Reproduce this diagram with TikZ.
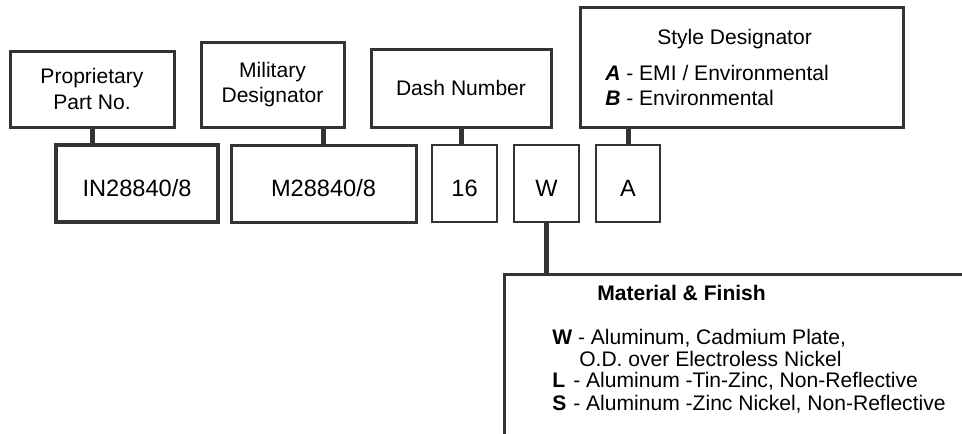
\documentclass[tikz,border=0pt]{standalone}
\usepackage{fontspec}
\setmainfont{Liberation Sans}
\usetikzlibrary{positioning}

\begin{document}
\begin{tikzpicture}[
    x=0.75pt, y=-0.75pt,
    label box/.style = {
        draw=black!80,
        line width=2.25pt,
        align=center,
        inner sep=0pt,
        font=\fontsize{15.8}{19}\selectfont
    },
    code box/.style = {
        draw=black!80,
        line width=#1,
        inner sep=0pt,
        minimum height=57.75pt,
        text height=20pt,
        text depth=0pt,
        font=\fontsize{17.7}{20}\selectfont
    },
    code box/.default=2.25pt,
    plain text/.style = {anchor=base west, inner sep=0pt, font=\fontsize{15.8}{16}\selectfont},
    stem/.style = {draw=black!80, line width=3.75pt}
]

\clip (0,0) rectangle (962,433);

\node [label box, minimum width=123pt, minimum height=57pt] (prop) at (92,89) {Proprietary\\Part No.};
\node [label box, minimum width=107.25pt, minimum height=63.75pt] (mil) at (272.5,84.5) {Military\\Designator};
\node [label box, minimum width=135pt, minimum height=58.5pt] (dash) at (461,88) {Dash Number};
\node [label box, minimum width=242.25pt, minimum height=90pt] (style) at (741.5,67) {};

\node [plain text] (style title) at (657,44) {Style Designator};
\node [plain text] (style a) at (605,80) {\textbf{\textit{A}} - EMI / Environmental};
\node [plain text] (style b) at (605,105) {\textbf{\textit{B}} - Environmental};

\node [code box=3pt, minimum width=121.5pt] (partno) at (137,183.5) {IN28840/8};
\node [code box, minimum width=138.75pt] (milno) at (323.5,183.5) {M28840/8};
\node [code box=1.9pt, minimum width=48.75pt] (dashno) at (464.5,183.5) {16};
\node [code box=1.9pt, minimum width=48.75pt] (finish) at (546.5,183.5) {W};
\node [code box=1.9pt, minimum width=48pt] (styleno) at (628,183.5) {A};

\node [label box, anchor=north west, minimum width=372pt, minimum height=140pt] (mat) at (503,273) {};

\node [plain text, font=\fontsize{15.8}{16}\selectfont\bfseries] (mat title) at (597,300) {Material \& Finish};
\node [plain text] (mat w) at (552,344) {\textbf{W} - Aluminum, Cadmium Plate,};
\node [plain text] (mat od) at (579,366) {O.D. over Electroless Nickel};
\node [plain text] (mat l) at (552,387) {\makebox[1em][l]{\textbf{L}}- Aluminum -Tin-Zinc, Non-Reflective};
\node [plain text] (mat s) at (552,410) {\makebox[1em][l]{\textbf{S}}- Aluminum -Zinc Nickel, Non-Reflective};

\draw [stem] (prop.south) -- (prop.south |- partno.north);
\draw [stem] (milno.north |- mil.south) -- (milno.north);
\draw [stem] (dash.south) -- (dash.south |- dashno.north);
\draw [stem] (styleno.north |- style.south) -- (styleno.north);
\draw [stem] (finish.south) -- (finish.south |- mat.north);

\end{tikzpicture}
\end{document}
